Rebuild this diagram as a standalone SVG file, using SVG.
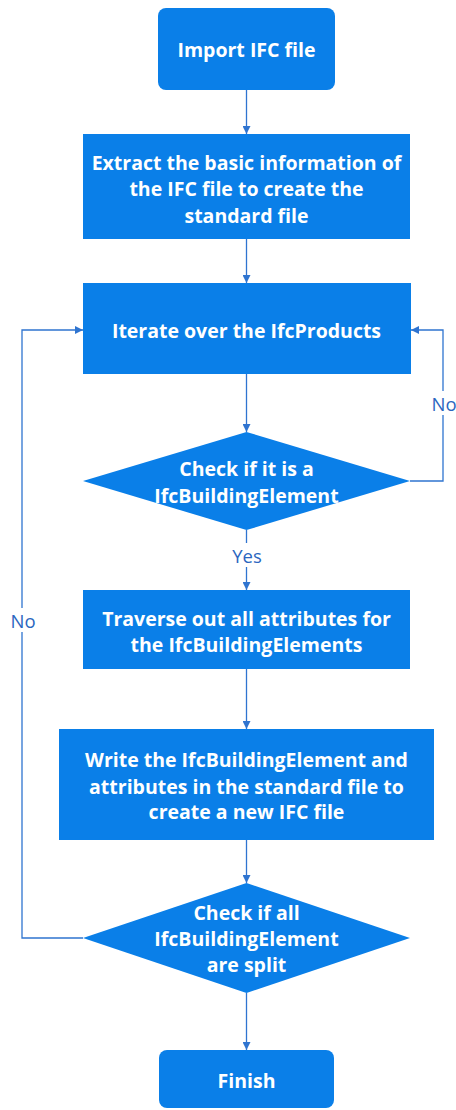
<svg xmlns="http://www.w3.org/2000/svg" width="456" height="1110" viewBox="0 0 456 1110">
<defs>
<marker id="ah" viewBox="0 0 10 10" refX="10" refY="5" markerWidth="8" markerHeight="8" markerUnits="userSpaceOnUse" orient="auto">
<path d="M0,0 L10,5 L0,10 z" fill="#2f74d0"/>
</marker>
<style>
.n{fill:#0a7fe8;}
.t{font-family:"Open Sans","Noto Sans",sans-serif;font-weight:bold;font-size:19.5px;fill:#ffffff;text-anchor:middle;dominant-baseline:central;}
.c{fill:none;stroke:#2f74d0;stroke-width:1.3;marker-end:url(#ah);}
.l{font-family:"Open Sans","Noto Sans",sans-serif;font-size:18.5px;fill:#2b66c0;text-anchor:middle;dominant-baseline:central;}
</style>
</defs>
<rect width="456" height="1110" fill="#ffffff"/>
<g id="connectors">
<path class="c" d="M246.5,90 V134"/>
<path class="c" d="M246.5,239 V283"/>
<path class="c" d="M246.5,374 V432"/>
<path class="c" d="M410,481 H443 V330 H411"/>
<path class="c" d="M246.5,530 V590"/>
<path class="c" d="M246.5,669 V729"/>
<path class="c" d="M246.5,840 V883"/>
<path class="c" d="M83,938 H22 V330 H83"/>
<path class="c" d="M246.5,993 V1050"/>
<rect x="228" y="543" width="37" height="24" fill="#ffffff"/>
<text class="l" x="247" y="555">Yes</text>
<rect x="8" y="608" width="30" height="24" fill="#ffffff"/>
<text class="l" x="23" y="620">No</text>
<rect x="430" y="391" width="26" height="24" fill="#ffffff"/>
<text class="l" x="444" y="403">No</text>
</g>
<g id="n1">
<rect class="n" x="158" y="8" width="177" height="82" rx="8"/>
<text class="t" x="246.5" y="49">Import IFC file</text>
</g>
<g id="n2">
<rect class="n" x="83" y="134" width="327" height="105"/>
<text class="t" x="246.5" y="162">Extract the basic information of</text>
<text class="t" x="246.5" y="188">the IFC file to create the</text>
<text class="t" x="246.5" y="215">standard file</text>
</g>
<g id="n3">
<rect class="n" x="83" y="283" width="328" height="91"/>
<text class="t" x="246.5" y="330">Iterate over the IfcProducts</text>
</g>
<g id="n4">
<polygon class="n" points="246.5,432 410,481 246.5,530 83,481"/>
<text class="t" x="246.5" y="468">Check if it is a</text>
<text class="t" x="246.5" y="495">IfcBuildingElement</text>
</g>
<g id="n5">
<rect class="n" x="83" y="590" width="327" height="79"/>
<text class="t" x="246.5" y="618">Traverse out all attributes for</text>
<text class="t" x="246.5" y="644">the IfcBuildingElements</text>
</g>
<g id="n6">
<rect class="n" x="59" y="729" width="375" height="111"/>
<text class="t" x="246.5" y="759">Write the IfcBuildingElement and</text>
<text class="t" x="246.5" y="786">attributes in the standard file to</text>
<text class="t" x="246.5" y="811">create a new IFC file</text>
</g>
<g id="n7">
<polygon class="n" points="246.5,883 410,938 246.5,993 83,938"/>
<text class="t" x="246.5" y="912">Check if all</text>
<text class="t" x="246.5" y="938">IfcBuildingElement</text>
<text class="t" x="246.5" y="964">are split</text>
</g>
<g id="n8">
<rect class="n" x="159" y="1050" width="175" height="58" rx="8"/>
<text class="t" x="246.5" y="1080">Finish</text>
</g>
</svg>
